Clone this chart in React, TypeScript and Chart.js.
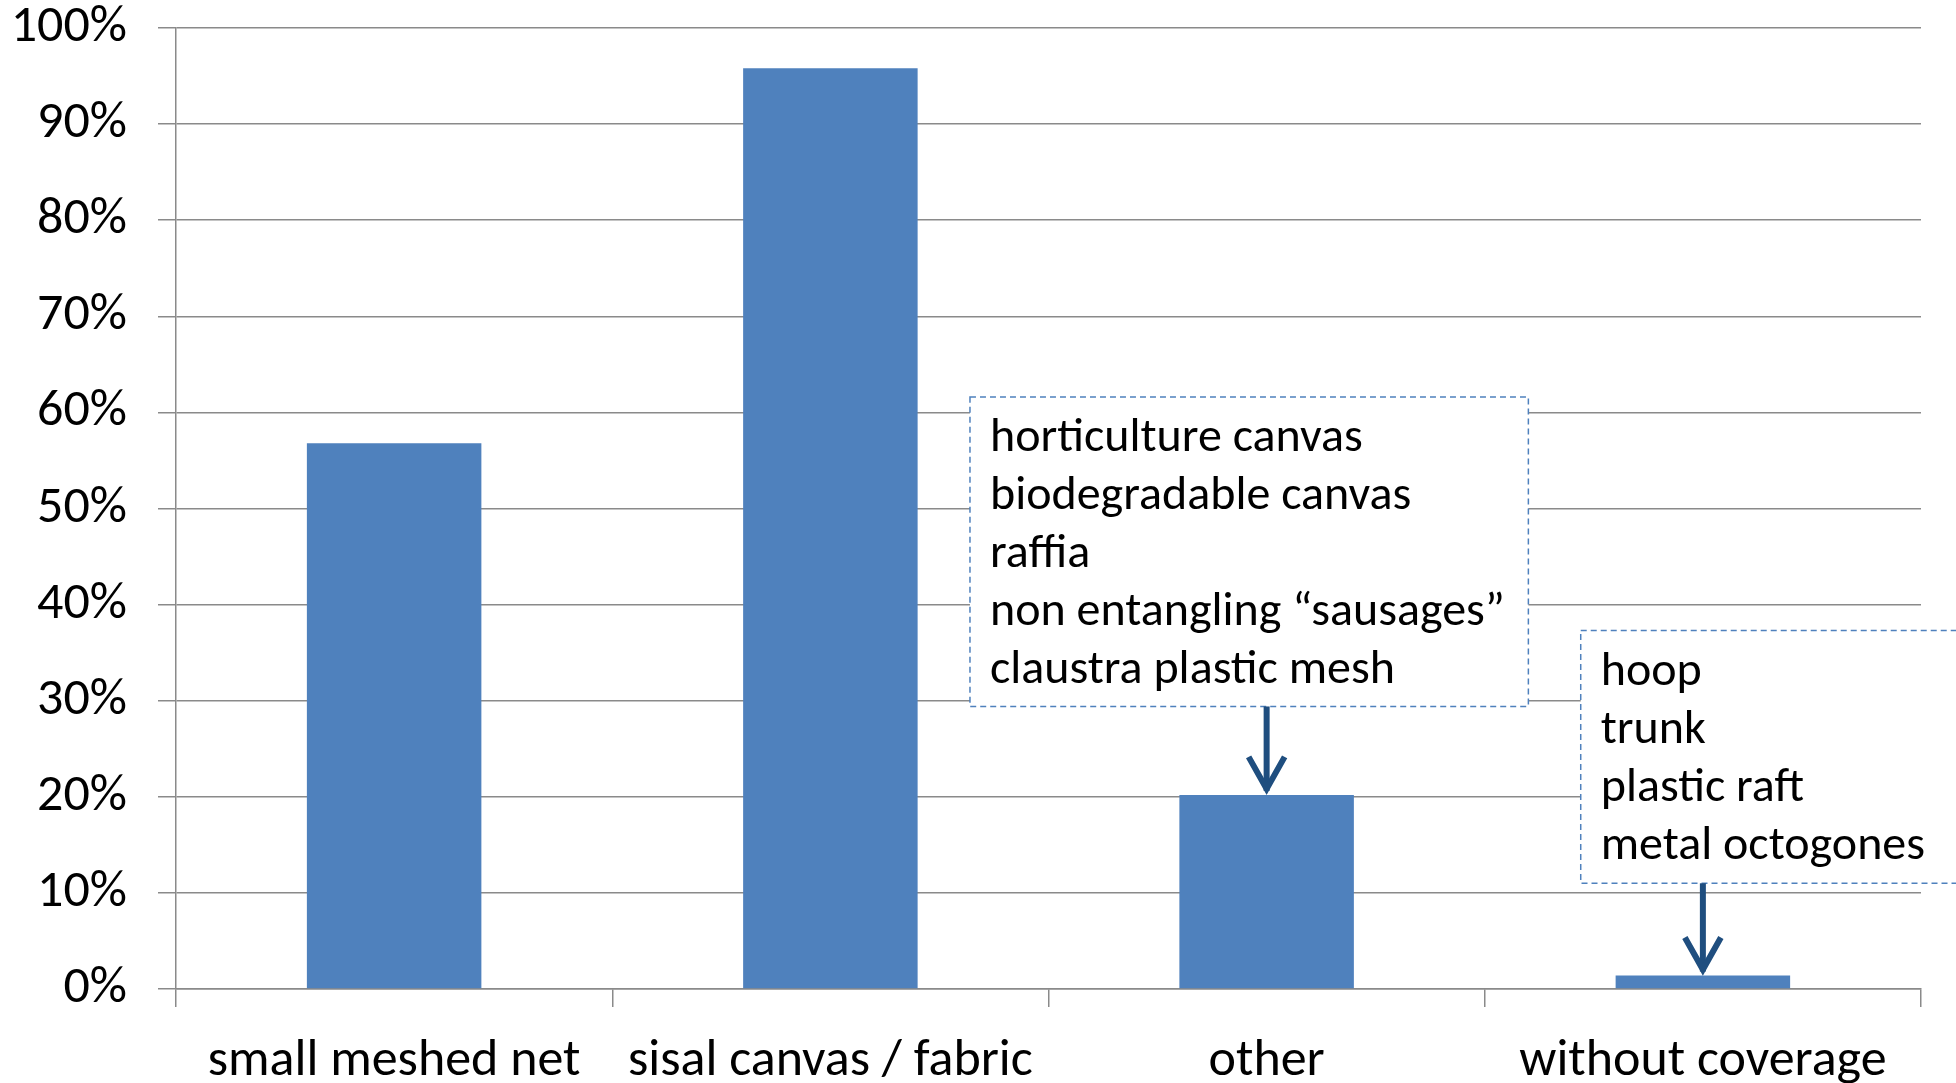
import React, { useEffect, useRef } from "react";
import { Chart, registerables } from "chart.js";

Chart.register(...registerables);

// ---- data ----
const categories = ["small meshed net", "sisal canvas / fabric", "other", "without coverage"];
const shares = [56.8, 95.8, 20.2, 1.4];
const yTickValues = [0, 10, 20, 30, 40, 50, 60, 70, 80, 90, 100];
const otherItems = [
  "horticulture canvas",
  "biodegradable canvas",
  "raffia",
  "non entangling \u201csausages\u201d",
  "claustra plastic mesh",
];
const withoutItems = ["hoop", "trunk", "plastic raft", "metal octogones"];

const FONT = "Carlito, Calibri, Lato, 'Noto Sans', sans-serif";
const GRID = "#8a8a8a";
const BAR = "#4F81BD";
const ARROW = "#1F4E7F";

// callout placement (in scale units: category index / percent)
const callouts = [
  { items: otherItems, target: 2, x0: 1.32, x1: 2.6, yTop: 61.6, yBottom: 29.4 },
  { items: withoutItems, target: 3, x0: 2.72, x1: 4.1, yTop: 37.3, yBottom: 11.0 },
];

const calloutPlugin = {
  id: "callouts",
  afterDatasetsDraw(chart: any) {
    const { ctx } = chart;
    const xs = chart.scales.x;
    const ys = chart.scales.y;
    ctx.save();
    for (const c of callouts) {
      const left = xs.getPixelForValue(c.x0);
      const right = xs.getPixelForValue(c.x1);
      const top = ys.getPixelForValue(c.yTop);
      const bottom = ys.getPixelForValue(c.yBottom);
      ctx.fillStyle = "#ffffff";
      ctx.fillRect(left, top, right - left, bottom - top);
      ctx.setLineDash([6, 4]);
      ctx.strokeStyle = BAR;
      ctx.lineWidth = 1.5;
      ctx.strokeRect(left, top, right - left, bottom - top);
      ctx.setLineDash([]);
      ctx.fillStyle = "#000000";
      ctx.font = `48px ${FONT}`;
      ctx.textBaseline = "middle";
      ctx.textAlign = "left";
      c.items.forEach((t, i) => {
        ctx.fillText(t, left + 20, top + 42 + i * 58);
      });
      // arrow
      const ax = xs.getPixelForValue(c.target);
      const tip = ys.getPixelForValue(shares[c.target]);
      ctx.strokeStyle = ARROW;
      ctx.lineWidth = 6;
      ctx.lineCap = "butt";
      ctx.beginPath();
      ctx.moveTo(ax, bottom);
      ctx.lineTo(ax, tip - 4);
      ctx.stroke();
      ctx.lineJoin = "miter";
      ctx.beginPath();
      ctx.moveTo(ax - 18, tip - 38);
      ctx.lineTo(ax, tip - 6);
      ctx.lineTo(ax + 18, tip - 38);
      ctx.stroke();
    }
    ctx.restore();
  },
};

export default function App() {
  const ref = useRef<HTMLCanvasElement | null>(null);
  useEffect(() => {
    if (!ref.current) return;
    const chart = new Chart(ref.current, {
      type: "bar",
      data: {
        labels: categories,
        datasets: [
          {
            data: shares,
            backgroundColor: BAR,
            borderWidth: 0,
            barPercentage: 0.4,
            categoryPercentage: 1,
          },
        ],
      },
      options: {
        animation: false,
        responsive: false,
        layout: { padding: { top: 28, right: 35, left: 0, bottom: 0 } },
        plugins: { legend: { display: false }, tooltip: { enabled: false } },
        scales: {
          x: {
            grid: {
              offset: true,
              drawOnChartArea: false,
              drawTicks: true,
              tickLength: 18,
              color: GRID,
              lineWidth: 1.5,
            },
            border: { display: true, color: GRID, width: 1.5 },
            ticks: {
              color: "#000",
              font: { family: FONT, size: 52 },
              padding: 24,
              autoSkip: false,
              maxRotation: 0,
            },
            afterFit(scale: any) {
              scale.height = 94;
            },
          },
          y: {
            min: 0,
            max: 100,
            afterBuildTicks(scale: any) {
              scale.ticks = yTickValues.map((v) => ({ value: v }));
            },
            grid: { color: GRID, lineWidth: 1.5, tickLength: 18, drawTicks: true },
            border: { display: true, color: GRID, width: 1.5 },
            ticks: {
              color: "#000",
              font: { family: FONT, size: 52 },
              padding: 31,
              callback: (v: any) => `${v}%`,
            },
            afterFit(scale: any) {
              scale.width = 176;
              scale.paddingTop = 0;
              scale.paddingBottom = 0;
            },
          },
        },
      },
      plugins: [calloutPlugin],
    });
    return () => chart.destroy();
  }, []);
  return (
    <div style={{ position: "fixed", left: 0, top: 0, width: 1956, height: 1083, background: "#fff" }}>
      <canvas ref={ref} width={1956} height={1083} style={{ width: 1956, height: 1083 }} />
    </div>
  );
}
